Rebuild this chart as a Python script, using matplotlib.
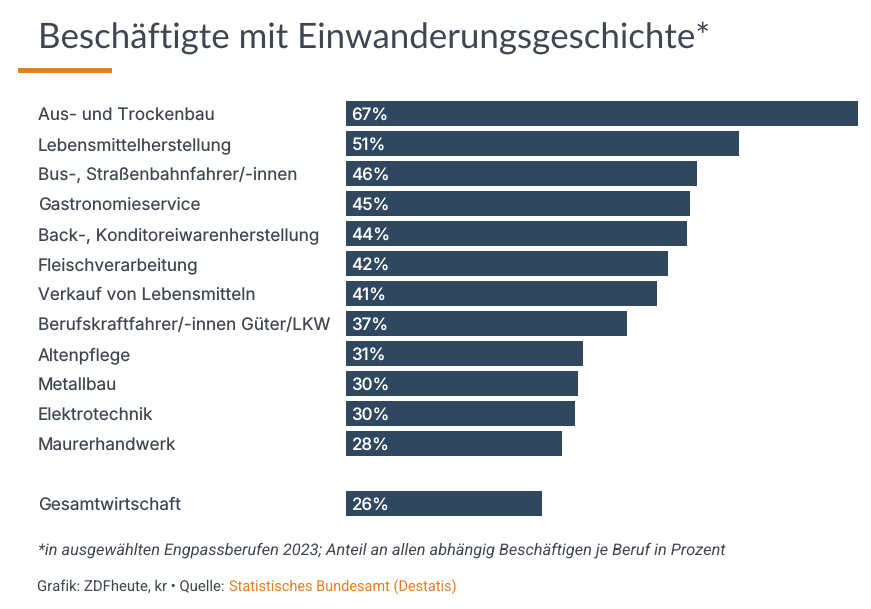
import matplotlib
matplotlib.use('Agg')
import matplotlib.pyplot as plt
from matplotlib.patches import Rectangle

berufe = ['Aus- und Trockenbau', 'Lebensmittelherstellung', 'Bus-, Straßenbahnfahrer/-innen',
          'Gastronomieservice', 'Back-, Konditoreiwarenherstellung', 'Fleischverarbeitung',
          'Verkauf von Lebensmitteln', 'Berufskraftfahrer/-innen Güter/LKW', 'Altenpflege',
          'Metallbau', 'Elektrotechnik', 'Maurerhandwerk', 'Gesamtwirtschaft']
werte = [67.0, 51.4, 45.9, 45.0, 44.6, 42.1, 40.7, 36.8, 31.0, 30.4, 30.0, 28.3, 25.7]
labels = ['67%', '51%', '46%', '45%', '44%', '42%', '41%', '37%', '31%', '30%', '30%', '28%', '26%']
zeilen = [0, 1, 2, 3, 4, 5, 6, 7, 8, 9, 10, 11, 13]

W, H = 871, 609
BAR = '#2f475f'
TEXT = '#3d4651'
ORANGE = '#e67e22'

plt.rcParams['text.hinting'] = 'no_hinting'

fig = plt.figure(figsize=(W / 100, H / 100), dpi=100, facecolor='white')

# Achse exakt auf die Pixel der Balken legen
left, right, top, bottom = 346, 858, 99, 519
ax = fig.add_axes([left / W, 1 - bottom / H, (right - left) / W, (bottom - top) / H])
ax.barh(zeilen, werte, height=25 / 30, color=BAR)
ax.set_xlim(0, 67)
ax.set_ylim((bottom - 113.5) / 30, (top - 113.5) / 30)

for s in ax.spines.values():
    s.set_visible(False)
ax.set_xticks([])
# Beschriftung sitzt knapp unter der Balkenmitte
ax.set_yticks([z + 0.012 for z in zeilen])
ax.set_yticklabels(berufe, family='Inter', fontsize=12.35, color=TEXT, ha='left')
ax.tick_params(axis='y', length=0, pad=(left - 38) * 0.72)

for z, lab in zip(zeilen, labels):
    ax.annotate(lab, (0, z), xytext=(4, -0.2), textcoords='offset points', va='center_baseline',
                ha='left', color='white', fontsize=12.2, family='Inter', fontweight='medium')

fig.text(38 / W, 1 - 48 / H, 'Beschäftigte mit Einwanderungsgeschichte*', family='Lato',
         fontsize=25.1, color=TEXT, ha='left', va='baseline')
fig.add_artist(Rectangle((18 / W, 1 - 73 / H), 94 / W, 5 / H, transform=fig.transFigure, color=ORANGE, lw=0))

fig.text(38 / W, 1 - 555 / H, '*in ausgewählten Engpassberufen 2023; Anteil an allen abhängig Beschäftigen je Beruf in Prozent',
         family='Roboto', style='italic', fontsize=11.75, color=TEXT, ha='left', va='baseline')

fig.text(37 / W, 1 - 591 / H, 'Grafik: ZDFheute, kr • Quelle:', family='Roboto', fontsize=10.7,
         color=TEXT, ha='left', va='baseline')
fig.text(229 / W, 1 - 591 / H, 'Statistisches Bundesamt (Destatis)', family='Roboto', fontsize=10.45,
         color=ORANGE, ha='left', va='baseline')

fig.savefig('out.png', dpi=100)
